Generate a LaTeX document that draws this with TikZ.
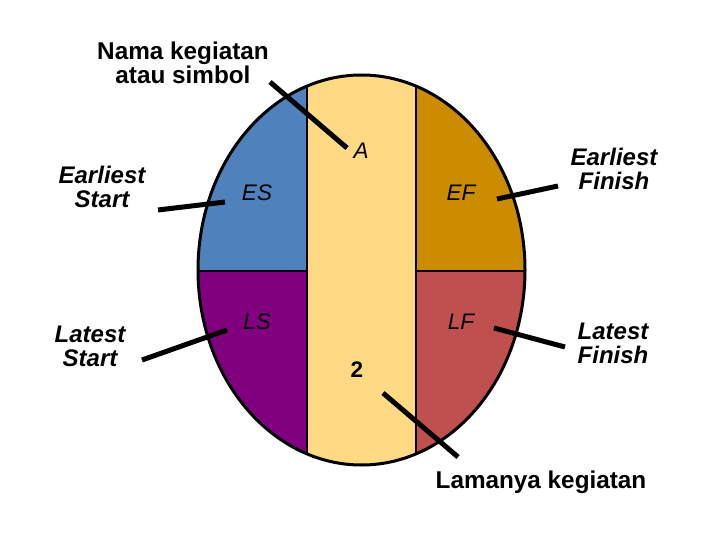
\documentclass[tikz,border=0pt]{standalone}
\usepackage{fontspec}
\setmainfont{Liberation Sans}
\definecolor{cblue}{RGB}{79,129,189}
\definecolor{cpurple}{RGB}{128,0,128}
\definecolor{cyellow}{RGB}{255,217,131}
\definecolor{cgold}{RGB}{204,140,0}
\definecolor{cred}{RGB}{192,80,77}
\begin{document}
\begin{tikzpicture}[x=1pt,y=-1pt,
  outlabel/.style={inner sep=0pt,align=center,font=\fontsize{24.3}{24}\selectfont\bfseries},
  outital/.style={outlabel,font=\fontsize{24}{24}\selectfont\bfseries\itshape},
  inlabel/.style={inner sep=0pt,font=\fontsize{22.5}{24}\selectfont\itshape},
  conn/.style={line width=5pt,black},
  divider/.style={line width=2pt,black}]
\useasboundingbox (0,0) rectangle (720,540);
\fill[white] (0,0) rectangle (720,540);
% coloured parts
\begin{scope}
  \clip (361.5,270) ellipse [x radius=163.5pt, y radius=195pt];
  \fill[cblue] (190,60) rectangle (306.5,270.5);
  \fill[cpurple] (190,270.5) rectangle (306.5,480);
  \fill[cyellow] (306.5,60) rectangle (416,480);
  \fill[cgold] (416,60) rectangle (530,270.5);
  \fill[cred] (416,270.5) rectangle (530,480);
  \draw[divider] (306.5,60) -- (306.5,480);
  \draw[divider] (416,60) -- (416,480);
  \draw[divider] (190,270.5) -- (306.5,270.5);
  \draw[divider] (416,270.5) -- (530,270.5);
\end{scope}
\draw[line width=3pt] (361.5,270) ellipse [x radius=163.5pt, y radius=195pt];
% inner labels
\node[inlabel] (A) at (361,151) {A};
\node[inlabel] (ES) at (257,193) {ES};
\node[inlabel] (EF) at (461,193) {EF};
\node[inlabel] (LS) at (257,322) {LS};
\node[inlabel] (LF) at (461,322) {LF};
\node[inner sep=0pt,font=\fontsize{22.5}{24}\selectfont\bfseries] (dur) at (357,370) {2};
% outer labels
\node[outlabel] (nama) at (183,63) {Nama kegiatan\\atau simbol};
\node[outital] (estart) at (102,187) {Earliest\\Start};
\node[outital] (lstart) at (90,346) {Latest\\Start};
\node[outital] (efinish) at (614,169) {Earliest\\Finish};
\node[outital] (lfinish) at (613,343) {Latest\\Finish};
\node[outlabel] (lama) at (541,482) {Lamanya kegiatan};
% connector end points
\coordinate (nama-a) at (270,82);
\coordinate (nama-b) at (347,148);
\coordinate (es-a) at (158,210);
\coordinate (es-b) at (225,202);
\coordinate (ls-a) at (142,360);
\coordinate (ls-b) at (227,330);
\coordinate (ef-a) at (497,199);
\coordinate (ef-b) at (558,186);
\coordinate (lf-a) at (494,328);
\coordinate (lf-b) at (565,347);
\coordinate (lama-a) at (383,393);
\coordinate (lama-b) at (458,457);
\draw[conn] (nama-a) -- (nama-b);
\draw[conn] (es-a) -- (es-b);
\draw[conn] (ls-a) -- (ls-b);
\draw[conn] (ef-a) -- (ef-b);
\draw[conn] (lf-a) -- (lf-b);
\draw[conn] (lama-a) -- (lama-b);
\end{tikzpicture}
\end{document}
